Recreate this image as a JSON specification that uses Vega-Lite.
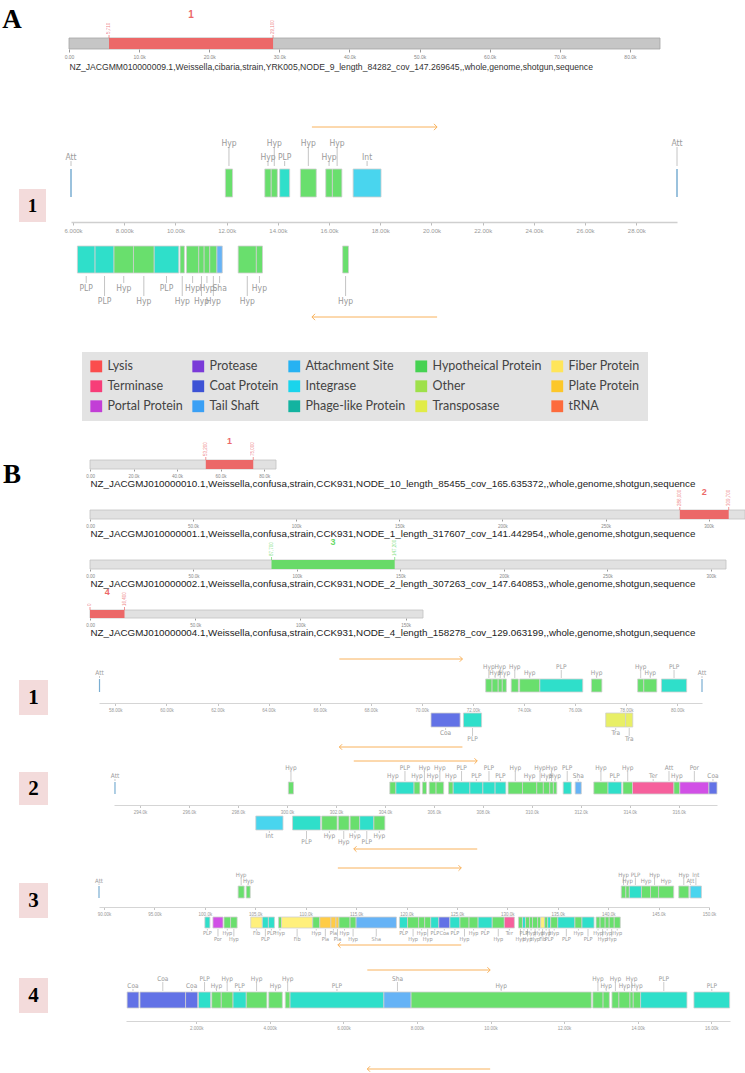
{
"$schema":"https://vega.github.io/schema/vega-lite/v6.json",
"padding":0,
"config":{"view":{"stroke":null},"font":"Liberation Sans","axis":{"grid":false}},
"columns":2,
"spacing":0,
"bounds":"flush",
"align":{"row":"each","column":"each"},
"resolve":{"scale":{"color":"independent"},"legend":{"color":"independent"}},
"datasets":{
"ov":[
{"o":"A","len":84282,"s":5710,"e":29100,"m":17405,"st":"incomplete","n":"1"},
{"o":"B1","len":85455,"s":53200,"e":75000,"m":64100,"st":"incomplete","n":"1"},
{"o":"B2","len":317607,"s":286000,"e":309700,"m":297850,"st":"incomplete","n":"2"},
{"o":"B3","len":307263,"s":87700,"e":147200,"m":117450,"st":"intact","n":"3"},
{"o":"B4","len":158278,"s":0,"e":16400,"m":8200,"st":"incomplete","n":"4"}
],
"arrows":[
{"t":"A1","a":15330,"b":20220},
{"t":"B1","a":66770,"b":71590},
{"t":"B2","a":302730,"b":307770},
{"t":"B3","a":113190,"b":125430},
{"t":"B4","a":6650,"b":9990}
],
"genes":[
{"t":"A1","s":5920,"e":5920,"m":5920,"ty":"Att","d":"+","l":1},
{"t":"A1","s":11950,"e":12230,"m":12090,"ty":"Hyp","d":"+","l":2},
{"t":"A1","s":13490,"e":13740,"m":13615,"ty":"Hyp","d":"+","l":1},
{"t":"A1","s":13740,"e":13980,"m":13860,"ty":"Hyp","d":"+","l":2},
{"t":"A1","s":14070,"e":14460,"m":14265,"ty":"PLP","d":"+","l":1},
{"t":"A1","s":14880,"e":15500,"m":15190,"ty":"Hyp","d":"+","l":2},
{"t":"A1","s":15870,"e":16130,"m":16000,"ty":"Hyp","d":"+","l":1},
{"t":"A1","s":16130,"e":16500,"m":16315,"ty":"Hyp","d":"+","l":2},
{"t":"A1","s":16940,"e":18030,"m":17485,"ty":"Int","d":"+","l":1},
{"t":"A1","s":29590,"e":29590,"m":29590,"ty":"Att","d":"+","l":2},
{"t":"A1","s":6170,"e":6860,"m":6515,"ty":"PLP","d":"-","l":1},
{"t":"A1","s":6860,"e":7600,"m":7230,"ty":"PLP","d":"-","l":2},
{"t":"A1","s":7600,"e":8360,"m":7980,"ty":"Hyp","d":"-","l":1},
{"t":"A1","s":8360,"e":9170,"m":8765,"ty":"Hyp","d":"-","l":2},
{"t":"A1","s":9170,"e":10130,"m":9650,"ty":"PLP","d":"-","l":1},
{"t":"A1","s":10180,"e":10350,"m":10265,"ty":"Hyp","d":"-","l":2},
{"t":"A1","s":10430,"e":10910,"m":10670,"ty":"Hyp","d":"-","l":1},
{"t":"A1","s":10910,"e":11120,"m":11015,"ty":"Hyp","d":"-","l":2},
{"t":"A1","s":11120,"e":11340,"m":11230,"ty":"Hyp","d":"-","l":1},
{"t":"A1","s":11340,"e":11620,"m":11480,"ty":"Hyp","d":"-","l":2},
{"t":"A1","s":11620,"e":11830,"m":11725,"ty":"Sha","d":"-","l":1},
{"t":"A1","s":12450,"e":13160,"m":12805,"ty":"Hyp","d":"-","l":2},
{"t":"A1","s":13160,"e":13400,"m":13280,"ty":"Hyp","d":"-","l":1},
{"t":"A1","s":16530,"e":16760,"m":16645,"ty":"Hyp","d":"-","l":2},
{"t":"B1","s":57380,"e":57380,"m":57380,"ty":"Att","d":"+","l":1},
{"t":"B1","s":72500,"e":72750,"m":72625,"ty":"Hyp","d":"+","l":2},
{"t":"B1","s":72750,"e":72990,"m":72870,"ty":"Hyp","d":"+","l":1},
{"t":"B1","s":72990,"e":73150,"m":73070,"ty":"Hyp","d":"+","l":2},
{"t":"B1","s":73150,"e":73310,"m":73230,"ty":"Hyp","d":"+","l":1},
{"t":"B1","s":73500,"e":73780,"m":73640,"ty":"Hyp","d":"+","l":2},
{"t":"B1","s":73830,"e":74620,"m":74225,"ty":"Hyp","d":"+","l":1},
{"t":"B1","s":74620,"e":76300,"m":75460,"ty":"PLP","d":"+","l":2},
{"t":"B1","s":76640,"e":77050,"m":76845,"ty":"Hyp","d":"+","l":1},
{"t":"B1","s":78450,"e":78690,"m":78570,"ty":"Hyp","d":"+","l":2},
{"t":"B1","s":78690,"e":79200,"m":78945,"ty":"Hyp","d":"+","l":1},
{"t":"B1","s":79380,"e":80370,"m":79875,"ty":"PLP","d":"+","l":2},
{"t":"B1","s":80970,"e":80970,"m":80970,"ty":"Att","d":"+","l":1},
{"t":"B1","s":70360,"e":71500,"m":70930,"ty":"Coa","d":"-","l":1},
{"t":"B1","s":71630,"e":72340,"m":71985,"ty":"PLP","d":"-","l":2},
{"t":"B1","s":77200,"e":77980,"m":77590,"ty":"Tra","d":"-","l":1},
{"t":"B1","s":77980,"e":78260,"m":78120,"ty":"Tra","d":"-","l":2},
{"t":"B2","s":292980,"e":292980,"m":292980,"ty":"Att","d":"+","l":1},
{"t":"B2","s":300060,"e":300270,"m":300165,"ty":"Hyp","d":"+","l":2},
{"t":"B2","s":304200,"e":304450,"m":304325,"ty":"Hyp","d":"+","l":1},
{"t":"B2","s":304450,"e":305190,"m":304820,"ty":"PLP","d":"+","l":2},
{"t":"B2","s":305190,"e":305430,"m":305310,"ty":"Hyp","d":"+","l":1},
{"t":"B2","s":305530,"e":305700,"m":305615,"ty":"Hyp","d":"+","l":2},
{"t":"B2","s":305810,"e":306090,"m":305950,"ty":"Hyp","d":"+","l":1},
{"t":"B2","s":306090,"e":306400,"m":306245,"ty":"Hyp","d":"+","l":2},
{"t":"B2","s":306600,"e":306790,"m":306695,"ty":"Hyp","d":"+","l":1},
{"t":"B2","s":306790,"e":307470,"m":307130,"ty":"PLP","d":"+","l":2},
{"t":"B2","s":307470,"e":308000,"m":307735,"ty":"PLP","d":"+","l":1},
{"t":"B2","s":308000,"e":308500,"m":308250,"ty":"PLP","d":"+","l":2},
{"t":"B2","s":308500,"e":308940,"m":308720,"ty":"PLP","d":"+","l":1},
{"t":"B2","s":309030,"e":309620,"m":309325,"ty":"Hyp","d":"+","l":2},
{"t":"B2","s":309620,"e":310200,"m":309910,"ty":"Hyp","d":"+","l":1},
{"t":"B2","s":310200,"e":310470,"m":310335,"ty":"Hyp","d":"+","l":2},
{"t":"B2","s":310470,"e":310730,"m":310600,"ty":"Hyp","d":"+","l":1},
{"t":"B2","s":310730,"e":310880,"m":310805,"ty":"Hyp","d":"+","l":2},
{"t":"B2","s":310880,"e":311020,"m":310950,"ty":"Hyp","d":"+","l":1},
{"t":"B2","s":311280,"e":311610,"m":311445,"ty":"PLP","d":"+","l":2},
{"t":"B2","s":311770,"e":312020,"m":311895,"ty":"Sha","d":"+","l":1},
{"t":"B2","s":312530,"e":313110,"m":312820,"ty":"Hyp","d":"+","l":2},
{"t":"B2","s":313110,"e":313660,"m":313385,"ty":"PLP","d":"+","l":1},
{"t":"B2","s":313720,"e":314110,"m":313915,"ty":"Hyp","d":"+","l":2},
{"t":"B2","s":314110,"e":315800,"m":314955,"ty":"Ter","d":"+","l":1},
{"t":"B2","s":315600,"e":315600,"m":315600,"ty":"Att","d":"+","l":2},
{"t":"B2","s":315800,"e":316040,"m":315920,"ty":"Hyp","d":"+","l":1},
{"t":"B2","s":316040,"e":317230,"m":316635,"ty":"Por","d":"+","l":2},
{"t":"B2","s":317230,"e":317560,"m":317395,"ty":"Coa","d":"+","l":1},
{"t":"B2","s":298730,"e":299840,"m":299285,"ty":"Int","d":"-","l":1},
{"t":"B2","s":300230,"e":301370,"m":300800,"ty":"PLP","d":"-","l":2},
{"t":"B2","s":301420,"e":302050,"m":301735,"ty":"Hyp","d":"-","l":1},
{"t":"B2","s":302100,"e":302540,"m":302320,"ty":"Hyp","d":"-","l":2},
{"t":"B2","s":302580,"e":302970,"m":302775,"ty":"Hyp","d":"-","l":1},
{"t":"B2","s":302970,"e":303550,"m":303260,"ty":"PLP","d":"-","l":2},
{"t":"B2","s":303550,"e":304000,"m":303775,"ty":"Hyp","d":"-","l":1},
{"t":"B3","s":89500,"e":89500,"m":89500,"ty":"Att","d":"+","l":1},
{"t":"B3","s":103300,"e":103900,"m":103600,"ty":"Hyp","d":"+","l":2},
{"t":"B3","s":104100,"e":104500,"m":104300,"ty":"Hyp","d":"+","l":1},
{"t":"B3","s":141300,"e":141750,"m":141525,"ty":"Hyp","d":"+","l":2},
{"t":"B3","s":141750,"e":142100,"m":141925,"ty":"Hyp","d":"+","l":1},
{"t":"B3","s":142100,"e":143300,"m":142700,"ty":"PLP","d":"+","l":2},
{"t":"B3","s":143300,"e":144200,"m":143750,"ty":"Hyp","d":"+","l":1},
{"t":"B3","s":144200,"e":145000,"m":144600,"ty":"Hyp","d":"+","l":2},
{"t":"B3","s":145000,"e":146500,"m":145750,"ty":"Hyp","d":"+","l":1},
{"t":"B3","s":147000,"e":148000,"m":147500,"ty":"Hyp","d":"+","l":2},
{"t":"B3","s":148150,"e":148150,"m":148150,"ty":"Att","d":"+","l":1},
{"t":"B3","s":148150,"e":149250,"m":148700,"ty":"Int","d":"+","l":2},
{"t":"B3","s":100000,"e":100500,"m":100250,"ty":"PLP","d":"-","l":1},
{"t":"B3","s":100800,"e":101800,"m":101300,"ty":"Por","d":"-","l":2},
{"t":"B3","s":101900,"e":102550,"m":102225,"ty":"Hyp","d":"-","l":1},
{"t":"B3","s":102550,"e":103200,"m":102875,"ty":"Hyp","d":"-","l":2},
{"t":"B3","s":104550,"e":105700,"m":105125,"ty":"Fib","d":"-","l":1},
{"t":"B3","s":105700,"e":106300,"m":106000,"ty":"PLP","d":"-","l":2},
{"t":"B3","s":106300,"e":106900,"m":106600,"ty":"PLP","d":"-","l":1},
{"t":"B3","s":107300,"e":107600,"m":107450,"ty":"Hyp","d":"-","l":1},
{"t":"B3","s":107600,"e":110700,"m":109150,"ty":"Fib","d":"-","l":2},
{"t":"B3","s":110700,"e":111400,"m":111050,"ty":"Hyp","d":"-","l":1},
{"t":"B3","s":111400,"e":112500,"m":111950,"ty":"Pla","d":"-","l":2},
{"t":"B3","s":112500,"e":113000,"m":112750,"ty":"Pla","d":"-","l":1},
{"t":"B3","s":113000,"e":113300,"m":113150,"ty":"Pla","d":"-","l":2},
{"t":"B3","s":113300,"e":114400,"m":113850,"ty":"Hyp","d":"-","l":1},
{"t":"B3","s":114400,"e":115000,"m":114700,"ty":"Hyp","d":"-","l":2},
{"t":"B3","s":115000,"e":119000,"m":117000,"ty":"Sha","d":"-","l":2},
{"t":"B3","s":119300,"e":120100,"m":119700,"ty":"PLP","d":"-","l":1},
{"t":"B3","s":120100,"e":121200,"m":120650,"ty":"Hyp","d":"-","l":2},
{"t":"B3","s":121200,"e":121800,"m":121500,"ty":"Hyp","d":"-","l":1},
{"t":"B3","s":121800,"e":122400,"m":122100,"ty":"Hyp","d":"-","l":2},
{"t":"B3","s":122400,"e":123200,"m":122800,"ty":"PLP","d":"-","l":1},
{"t":"B3","s":123200,"e":124300,"m":123750,"ty":"Coa","d":"-","l":1},
{"t":"B3","s":124300,"e":125300,"m":124800,"ty":"PLP","d":"-","l":1},
{"t":"B3","s":125300,"e":126200,"m":125750,"ty":"Hyp","d":"-","l":2},
{"t":"B3","s":126200,"e":127100,"m":126650,"ty":"Hyp","d":"-","l":1},
{"t":"B3","s":127100,"e":128500,"m":127800,"ty":"PLP","d":"-","l":1},
{"t":"B3","s":128500,"e":129700,"m":129100,"ty":"Hyp","d":"-","l":2},
{"t":"B3","s":129700,"e":130700,"m":130200,"ty":"Ter","d":"-","l":1},
{"t":"B3","s":131100,"e":131500,"m":131300,"ty":"Hyp","d":"-","l":2},
{"t":"B3","s":131500,"e":131800,"m":131650,"ty":"PLP","d":"-","l":1},
{"t":"B3","s":131800,"e":132200,"m":132000,"ty":"Hyp","d":"-","l":2},
{"t":"B3","s":132200,"e":132500,"m":132350,"ty":"Hyp","d":"-","l":1},
{"t":"B3","s":132500,"e":133000,"m":132750,"ty":"Hyp","d":"-","l":2},
{"t":"B3","s":133000,"e":133300,"m":133150,"ty":"Hyp","d":"-","l":1},
{"t":"B3","s":133300,"e":133700,"m":133500,"ty":"Fib","d":"-","l":2},
{"t":"B3","s":133700,"e":134000,"m":133850,"ty":"Hyp","d":"-","l":1},
{"t":"B3","s":134000,"e":134300,"m":134150,"ty":"PLP","d":"-","l":2},
{"t":"B3","s":134300,"e":135000,"m":134650,"ty":"Hyp","d":"-","l":1},
{"t":"B3","s":135000,"e":136700,"m":135850,"ty":"PLP","d":"-","l":2},
{"t":"B3","s":136700,"e":137400,"m":137050,"ty":"Hyp","d":"-","l":1},
{"t":"B3","s":137400,"e":138600,"m":138000,"ty":"PLP","d":"-","l":2},
{"t":"B3","s":138800,"e":139200,"m":139000,"ty":"Hyp","d":"-","l":1},
{"t":"B3","s":139200,"e":139700,"m":139450,"ty":"Hyp","d":"-","l":2},
{"t":"B3","s":139700,"e":140100,"m":139900,"ty":"Hyp","d":"-","l":1},
{"t":"B3","s":140100,"e":140600,"m":140350,"ty":"Hyp","d":"-","l":2},
{"t":"B3","s":140600,"e":141200,"m":140900,"ty":"Hyp","d":"-","l":1},
{"t":"B4","s":120,"e":440,"m":280,"ty":"Coa","d":"+","l":1},
{"t":"B4","s":470,"e":1710,"m":1090,"ty":"Coa","d":"+","l":2},
{"t":"B4","s":1710,"e":2040,"m":1875,"ty":"Coa","d":"+","l":1},
{"t":"B4","s":2060,"e":2390,"m":2225,"ty":"PLP","d":"+","l":2},
{"t":"B4","s":2420,"e":2680,"m":2550,"ty":"Hyp","d":"+","l":1},
{"t":"B4","s":2680,"e":3000,"m":2840,"ty":"Hyp","d":"+","l":2},
{"t":"B4","s":3000,"e":3360,"m":3180,"ty":"PLP","d":"+","l":1},
{"t":"B4","s":3360,"e":3920,"m":3640,"ty":"Hyp","d":"+","l":2},
{"t":"B4","s":3970,"e":4340,"m":4155,"ty":"Hyp","d":"+","l":1},
{"t":"B4","s":4420,"e":4550,"m":4485,"ty":"Hyp","d":"+","l":2},
{"t":"B4","s":4550,"e":7100,"m":5825,"ty":"PLP","d":"+","l":1},
{"t":"B4","s":7100,"e":7840,"m":7470,"ty":"Sha","d":"+","l":2},
{"t":"B4","s":7840,"e":12740,"m":10290,"ty":"Hyp","d":"+","l":1},
{"t":"B4","s":12780,"e":13060,"m":12920,"ty":"Hyp","d":"+","l":2},
{"t":"B4","s":13060,"e":13230,"m":13145,"ty":"Hyp","d":"+","l":1},
{"t":"B4","s":13300,"e":13490,"m":13395,"ty":"Hyp","d":"+","l":2},
{"t":"B4","s":13490,"e":13790,"m":13640,"ty":"Hyp","d":"+","l":1},
{"t":"B4","s":13790,"e":13880,"m":13835,"ty":"Hyp","d":"+","l":2},
{"t":"B4","s":13880,"e":14080,"m":13980,"ty":"Hyp","d":"+","l":1},
{"t":"B4","s":14080,"e":15340,"m":14710,"ty":"PLP","d":"+","l":2},
{"t":"B4","s":15530,"e":16500,"m":16015,"ty":"PLP","d":"+","l":1}
]
},
"concat":[
{"width":60,"height":90,"data":{"values":[{"lab":"A"}]},"mark":{"type":"text","font":"Liberation Serif","fontWeight":"bold","fontSize":27,"color":"#000000","align":"center","baseline":"middle"},"encoding":{"x":{"datum":12,"type":"quantitative","scale":{"domain":[0,60],"nice":false,"zero":false},"axis":null},"y":{"datum":20,"type":"quantitative","scale":{"domain":[0,90],"nice":false,"zero":false,"reverse":true},"axis":null},"text":{"field":"lab","type":"nominal"}}},
{"width":685,"height":90,"data":{"name":"ov"},"layer":[
{"transform":[{"filter":"datum.o=='A'"}],"mark":{"type":"rect","color":"#c6c6c6","stroke":"#a5a5a5","strokeWidth":0.8},"encoding":{"x":{"field":"len","type":"quantitative","scale":{"domain":[0,84282],"range":[9,600],"nice":false,"zero":false}},"x2":{"datum":0},"y":{"datum":0,"type":"quantitative","scale":{"domain":[-41,49],"nice":false,"zero":false},"axis":null},"y2":{"datum":11}}},
{"transform":[{"filter":"datum.o=='A'"}],"mark":{"type":"rect"},"encoding":{"x":{"field":"s","type":"quantitative","scale":{"domain":[0,84282],"range":[9,600],"nice":false,"zero":false},"axis":{"values":[0,10000,20000,30000,40000,50000,60000,70000,80000],"format":".3s","offset":-41,"title":"NZ_JACGMM010000009.1,Weissella,cibaria,strain,YRK005,NODE_9_length_84282_cov_147.269645,,whole,genome,shotgun,sequence","titleAnchor":"start","titleAlign":"left","titleFontSize":8.6,"titleFontWeight":"normal","titleColor":"#333333","titlePadding":3,"titleLimit":1000,"labelFontSize":5,"labelColor":"#888888","tickSize":3,"tickColor":"#999999","domain":false,"labelOverlap":false,"labelFlush":false}},"x2":{"field":"e"},"y":{"datum":0,"type":"quantitative","scale":{"domain":[-41,49],"nice":false,"zero":false},"axis":null},"y2":{"datum":11},"color":{"field":"st","type":"nominal","scale":{"domain":["incomplete","intact"],"range":["#ec6868","#68da68"]},"legend":null}}},
{"transform":[{"filter":"datum.o=='A'"}],"mark":{"type":"text","fontSize":10,"fontWeight":"bold","baseline":"middle"},"encoding":{"x":{"field":"m","type":"quantitative","scale":{"domain":[0,84282],"range":[9,600],"nice":false,"zero":false}},"y":{"datum":34,"type":"quantitative","scale":{"domain":[-41,49],"nice":false,"zero":false},"axis":null},"text":{"field":"n","type":"nominal"},"color":{"field":"st","type":"nominal","scale":{"domain":["incomplete","intact"],"range":["#ec6868","#68da68"]},"legend":null}}},
{"transform":[{"filter":"datum.o=='A'"}],"mark":{"type":"rule","strokeWidth":0.7},"encoding":{"x":{"field":"s","type":"quantitative","scale":{"domain":[0,84282],"range":[9,600],"nice":false,"zero":false}},"y":{"datum":11,"type":"quantitative","scale":{"domain":[-41,49],"nice":false,"zero":false},"axis":null},"y2":{"datum":14},"color":{"field":"st","type":"nominal","scale":{"domain":["incomplete","intact"],"range":["#ec6868","#68da68"]},"legend":null}}},
{"transform":[{"filter":"datum.o=='A'"}],"mark":{"type":"rule","strokeWidth":0.7},"encoding":{"x":{"field":"e","type":"quantitative","scale":{"domain":[0,84282],"range":[9,600],"nice":false,"zero":false}},"y":{"datum":11,"type":"quantitative","scale":{"domain":[-41,49],"nice":false,"zero":false},"axis":null},"y2":{"datum":14},"color":{"field":"st","type":"nominal","scale":{"domain":["incomplete","intact"],"range":["#ec6868","#68da68"]},"legend":null}}},
{"transform":[{"filter":"datum.o=='A'"}],"mark":{"type":"text","angle":270,"align":"left","baseline":"middle","fontSize":4.5,"opacity":0.8},"encoding":{"x":{"field":"s","type":"quantitative","scale":{"domain":[0,84282],"range":[9,600],"nice":false,"zero":false}},"y":{"datum":15,"type":"quantitative","scale":{"domain":[-41,49],"nice":false,"zero":false},"axis":null},"text":{"field":"s","type":"quantitative","format":","},"color":{"field":"st","type":"nominal","scale":{"domain":["incomplete","intact"],"range":["#ec6868","#68da68"]},"legend":null}}},
{"transform":[{"filter":"datum.o=='A'"}],"mark":{"type":"text","angle":270,"align":"left","baseline":"middle","fontSize":4.5,"opacity":0.8},"encoding":{"x":{"field":"e","type":"quantitative","scale":{"domain":[0,84282],"range":[9,600],"nice":false,"zero":false}},"y":{"datum":15,"type":"quantitative","scale":{"domain":[-41,49],"nice":false,"zero":false},"axis":null},"text":{"field":"e","type":"quantitative","format":","},"color":{"field":"st","type":"nominal","scale":{"domain":["incomplete","intact"],"range":["#ec6868","#68da68"]},"legend":null}}}
]},
{"width":60,"height":240,"data":{"values":[{"lab":"1"}]},"layer":[
{"mark":{"type":"rect","color":"#f3dbdb"},"encoding":{"x":{"datum":19,"type":"quantitative","scale":{"domain":[0,60],"nice":false,"zero":false},"axis":null},"x2":{"datum":46},"y":{"datum":99,"type":"quantitative","scale":{"domain":[0,240],"nice":false,"zero":false,"reverse":true},"axis":null},"y2":{"datum":132}}},
{"mark":{"type":"text","font":"Liberation Serif","fontWeight":"bold","fontSize":19,"color":"#000000","align":"center","baseline":"middle"},"encoding":{"x":{"datum":32.5,"type":"quantitative","scale":{"domain":[0,60],"nice":false,"zero":false},"axis":null},"y":{"datum":116,"type":"quantitative","scale":{"domain":[0,240],"nice":false,"zero":false,"reverse":true},"axis":null},"text":{"field":"lab","type":"nominal"}}}
]},
{"width":685,"height":240,"data":{"name":"genes"},"layer":[
{"transform":[{"filter":"datum.t=='A1'&&datum.ty=='Att'"}],"mark":{"type":"rule","color":"#7aaed2","strokeWidth":1.5},"encoding":{"x":{"field":"s","type":"quantitative","scale":{"domain":[5920,29590],"range":[11,617],"nice":false,"zero":false}},"y":{"datum":25,"type":"quantitative","scale":{"domain":[-108,132],"nice":false,"zero":false},"axis":null},"y2":{"datum":53}}},
{"transform":[{"filter":"datum.t=='A1'&&datum.d=='+'&&datum.ty!='Att'"}],"mark":{"type":"rect","stroke":"#cfcfcf","strokeWidth":0.8},"encoding":{"x":{"field":"s","type":"quantitative","scale":{"domain":[5920,29590],"range":[11,617],"nice":false,"zero":false},"axis":{"values":[6000,8000,10000,12000,14000,16000,18000,20000,22000,24000,26000,28000],"format":".4s","offset":-108,"title":null,"domainColor":"#cfcfcf","domainWidth":1.5,"tickColor":"#bbbbbb","tickSize":3,"labelFontSize":6,"labelColor":"#999999","labelPadding":2,"labelOverlap":false,"labelFlush":false}},"x2":{"field":"e"},"y":{"datum":25,"type":"quantitative","scale":{"domain":[-108,132],"nice":false,"zero":false},"axis":null},"y2":{"datum":53},"color":{"field":"ty","type":"nominal","scale":{"domain":["Hyp","PLP","Int","Att","Sha","Coa","Ter","Por","Tra","Fib","Pla"],"range":["#69df6d","#2fdfca","#49d5ee","#7aaed2","#66b3f6","#6272e6","#f6609c","#d150e6","#e8ef66","#fff07c","#ffcc46"]},"legend":null}}},
{"transform":[{"filter":"datum.t=='A1'&&datum.d=='-'"}],"mark":{"type":"rect","stroke":"#cfcfcf","strokeWidth":0.8},"encoding":{"x":{"field":"s","type":"quantitative","scale":{"domain":[5920,29590],"range":[11,617],"nice":false,"zero":false}},"x2":{"field":"e"},"y":{"datum":-51,"type":"quantitative","scale":{"domain":[-108,132],"nice":false,"zero":false},"axis":null},"y2":{"datum":-24},"color":{"field":"ty","type":"nominal","scale":{"domain":["Hyp","PLP","Int","Att","Sha","Coa","Ter","Por","Tra","Fib","Pla"],"range":["#69df6d","#2fdfca","#49d5ee","#7aaed2","#66b3f6","#6272e6","#f6609c","#d150e6","#e8ef66","#fff07c","#ffcc46"]},"legend":null}}},
{"transform":[{"filter":"datum.t=='A1'&&datum.d=='+'&&datum.l==1"}],"mark":{"type":"rule","color":"#b5b5b5","strokeWidth":0.8},"encoding":{"x":{"field":"m","type":"quantitative","scale":{"domain":[5920,29590],"range":[11,617],"nice":false,"zero":false}},"y":{"datum":56,"type":"quantitative","scale":{"domain":[-108,132],"nice":false,"zero":false},"axis":null},"y2":{"datum":61}}},
{"transform":[{"filter":"datum.t=='A1'&&datum.d=='+'&&datum.l==2"}],"mark":{"type":"rule","color":"#b5b5b5","strokeWidth":0.8},"encoding":{"x":{"field":"m","type":"quantitative","scale":{"domain":[5920,29590],"range":[11,617],"nice":false,"zero":false}},"y":{"datum":56,"type":"quantitative","scale":{"domain":[-108,132],"nice":false,"zero":false},"axis":null},"y2":{"datum":75}}},
{"transform":[{"filter":"datum.t=='A1'&&datum.d=='-'&&datum.l==1"}],"mark":{"type":"rule","color":"#b5b5b5","strokeWidth":0.8},"encoding":{"x":{"field":"m","type":"quantitative","scale":{"domain":[5920,29590],"range":[11,617],"nice":false,"zero":false}},"y":{"datum":-54,"type":"quantitative","scale":{"domain":[-108,132],"nice":false,"zero":false},"axis":null},"y2":{"datum":-61}}},
{"transform":[{"filter":"datum.t=='A1'&&datum.d=='-'&&datum.l==2"}],"mark":{"type":"rule","color":"#b5b5b5","strokeWidth":0.8},"encoding":{"x":{"field":"m","type":"quantitative","scale":{"domain":[5920,29590],"range":[11,617],"nice":false,"zero":false}},"y":{"datum":-54,"type":"quantitative","scale":{"domain":[-108,132],"nice":false,"zero":false},"axis":null},"y2":{"datum":-74}}},
{"transform":[{"filter":"datum.t=='A1'&&datum.d=='+'&&datum.l==1"}],"mark":{"type":"text","font":"DejaVu Sans Condensed, Liberation Sans, sans-serif","fontSize":8.5,"color":"#9a9a9a","baseline":"middle"},"encoding":{"x":{"field":"m","type":"quantitative","scale":{"domain":[5920,29590],"range":[11,617],"nice":false,"zero":false}},"y":{"datum":65,"type":"quantitative","scale":{"domain":[-108,132],"nice":false,"zero":false},"axis":null},"text":{"field":"ty","type":"nominal"}}},
{"transform":[{"filter":"datum.t=='A1'&&datum.d=='+'&&datum.l==2"}],"mark":{"type":"text","font":"DejaVu Sans Condensed, Liberation Sans, sans-serif","fontSize":8.5,"color":"#9a9a9a","baseline":"middle"},"encoding":{"x":{"field":"m","type":"quantitative","scale":{"domain":[5920,29590],"range":[11,617],"nice":false,"zero":false}},"y":{"datum":79,"type":"quantitative","scale":{"domain":[-108,132],"nice":false,"zero":false},"axis":null},"text":{"field":"ty","type":"nominal"}}},
{"transform":[{"filter":"datum.t=='A1'&&datum.d=='-'&&datum.l==1"}],"mark":{"type":"text","font":"DejaVu Sans Condensed, Liberation Sans, sans-serif","fontSize":8.5,"color":"#9a9a9a","baseline":"middle"},"encoding":{"x":{"field":"m","type":"quantitative","scale":{"domain":[5920,29590],"range":[11,617],"nice":false,"zero":false}},"y":{"datum":-66,"type":"quantitative","scale":{"domain":[-108,132],"nice":false,"zero":false},"axis":null},"text":{"field":"ty","type":"nominal"}}},
{"transform":[{"filter":"datum.t=='A1'&&datum.d=='-'&&datum.l==2"}],"mark":{"type":"text","font":"DejaVu Sans Condensed, Liberation Sans, sans-serif","fontSize":8.5,"color":"#9a9a9a","baseline":"middle"},"encoding":{"x":{"field":"m","type":"quantitative","scale":{"domain":[5920,29590],"range":[11,617],"nice":false,"zero":false}},"y":{"datum":-79,"type":"quantitative","scale":{"domain":[-108,132],"nice":false,"zero":false},"axis":null},"text":{"field":"ty","type":"nominal"}}},
{"data":{"name":"arrows"},"transform":[{"filter":"datum.t=='A1'"}],"mark":{"type":"rule","color":"#f9b25c","strokeWidth":1},"encoding":{"x":{"field":"a","type":"quantitative","scale":{"domain":[5920,29590],"range":[11,617],"nice":false,"zero":false}},"x2":{"field":"b"},"y":{"datum":95,"type":"quantitative","scale":{"domain":[-108,132],"nice":false,"zero":false},"axis":null}}},
{"data":{"name":"arrows"},"transform":[{"filter":"datum.t=='A1'"}],"mark":{"type":"rule","color":"#f9b25c","strokeWidth":1},"encoding":{"x":{"field":"a","type":"quantitative","scale":{"domain":[5920,29590],"range":[11,617],"nice":false,"zero":false}},"x2":{"field":"b"},"y":{"datum":-95,"type":"quantitative","scale":{"domain":[-108,132],"nice":false,"zero":false},"axis":null}}},
{"data":{"name":"arrows"},"transform":[{"filter":"datum.t=='A1'"}],"mark":{"type":"point","shape":"M-1,-1L0,0L-1,1","filled":false,"color":"#f9b25c","strokeWidth":1,"size":40,"opacity":1},"encoding":{"x":{"field":"b","type":"quantitative","scale":{"domain":[5920,29590],"range":[11,617],"nice":false,"zero":false}},"y":{"datum":95,"type":"quantitative","scale":{"domain":[-108,132],"nice":false,"zero":false},"axis":null}}},
{"data":{"name":"arrows"},"transform":[{"filter":"datum.t=='A1'"}],"mark":{"type":"point","shape":"M1,-1L0,0L1,1","filled":false,"color":"#f9b25c","strokeWidth":1,"size":40,"opacity":1},"encoding":{"x":{"field":"a","type":"quantitative","scale":{"domain":[5920,29590],"range":[11,617],"nice":false,"zero":false}},"y":{"datum":-95,"type":"quantitative","scale":{"domain":[-108,132],"nice":false,"zero":false},"axis":null}}}
]},
{"width":60,"height":100,"data":{"values":[{"lab":""}]},"mark":{"type":"text"},"encoding":{"text":{"field":"lab","type":"nominal"}}},
{"width":685,"height":100,"data":{"values":[{"c":"Lysis"}]},"mark":{"type":"square","size":0},"encoding":{"color":{"field":"c","type":"nominal","scale":{"domain":["Lysis","Protease","Attachment Site","Hypotheical Protein","Fiber Protein","Terminase","Coat Protein","Integrase","Other","Plate Protein","Portal Protein","Tail Shaft","Phage-like Protein","Transposase","tRNA"],"range":["#fb4d4d","#7a3ad8","#26b2f2","#46d252","#ffe55a","#f73d78","#3d52d5","#1ad4ec","#9ee04a","#fcc72a","#c23ed6","#3aa0f5","#13b3a0","#e1ec47","#fd6b3c"]},"legend":{"orient":"none","legendX":22,"legendY":22,"columns":5,"direction":"horizontal","title":null,"symbolType":"square","symbolSize":140,"symbolStrokeWidth":0,"symbolOpacity":1,"labelFont":"Lato","labelFontSize":12.5,"labelColor":"#444444","labelOffset":5,"labelLimit":250,"fillColor":"#e3e3e3","padding":8,"rowPadding":7,"columnPadding":9}}}},
{"width":60,"height":56,"data":{"values":[{"lab":"B"}]},"mark":{"type":"text","font":"Liberation Serif","fontWeight":"bold","fontSize":27,"color":"#000000","align":"center","baseline":"middle"},"encoding":{"x":{"datum":12,"type":"quantitative","scale":{"domain":[0,60],"nice":false,"zero":false},"axis":null},"y":{"datum":45,"type":"quantitative","scale":{"domain":[0,56],"nice":false,"zero":false,"reverse":true},"axis":null},"text":{"field":"lab","type":"nominal"}}},
{"width":685,"height":56,"data":{"name":"ov"},"layer":[
{"transform":[{"filter":"datum.o=='B1'"}],"mark":{"type":"rect","color":"#e1e1e1","stroke":"#c2c2c2","strokeWidth":0.8},"encoding":{"x":{"field":"len","type":"quantitative","scale":{"domain":[0,85455],"range":[30,216],"nice":false,"zero":false}},"x2":{"datum":0},"y":{"datum":0,"type":"quantitative","scale":{"domain":[-17,39],"nice":false,"zero":false},"axis":null},"y2":{"datum":9}}},
{"transform":[{"filter":"datum.o=='B1'"}],"mark":{"type":"rect"},"encoding":{"x":{"field":"s","type":"quantitative","scale":{"domain":[0,85455],"range":[30,216],"nice":false,"zero":false},"axis":{"values":[0,20000,40000,60000,80000],"format":".3s","offset":-17,"title":"NZ_JACGMJ010000010.1,Weissella,confusa,strain,CCK931,NODE_10_length_85455_cov_165.635372,,whole,genome,shotgun,sequence","titleAnchor":"start","titleAlign":"left","titleFontSize":9.8,"titleFontWeight":"normal","titleColor":"#222222","titlePadding":1,"titleLimit":1000,"labelFontSize":4.5,"labelColor":"#888888","tickSize":2,"tickColor":"#999999","domain":false,"labelOverlap":false,"labelFlush":false}},"x2":{"field":"e"},"y":{"datum":0,"type":"quantitative","scale":{"domain":[-17,39],"nice":false,"zero":false},"axis":null},"y2":{"datum":9},"color":{"field":"st","type":"nominal","scale":{"domain":["incomplete","intact"],"range":["#ec6868","#68da68"]},"legend":null}}},
{"transform":[{"filter":"datum.o=='B1'"}],"mark":{"type":"text","fontSize":9,"fontWeight":"bold","baseline":"middle"},"encoding":{"x":{"field":"m","type":"quantitative","scale":{"domain":[0,85455],"range":[30,216],"nice":false,"zero":false}},"y":{"datum":28,"type":"quantitative","scale":{"domain":[-17,39],"nice":false,"zero":false},"axis":null},"text":{"field":"n","type":"nominal"},"color":{"field":"st","type":"nominal","scale":{"domain":["incomplete","intact"],"range":["#ec6868","#68da68"]},"legend":null}}},
{"transform":[{"filter":"datum.o=='B1'"}],"mark":{"type":"rule","strokeWidth":0.7},"encoding":{"x":{"field":"s","type":"quantitative","scale":{"domain":[0,85455],"range":[30,216],"nice":false,"zero":false}},"y":{"datum":9,"type":"quantitative","scale":{"domain":[-17,39],"nice":false,"zero":false},"axis":null},"y2":{"datum":12},"color":{"field":"st","type":"nominal","scale":{"domain":["incomplete","intact"],"range":["#ec6868","#68da68"]},"legend":null}}},
{"transform":[{"filter":"datum.o=='B1'"}],"mark":{"type":"rule","strokeWidth":0.7},"encoding":{"x":{"field":"e","type":"quantitative","scale":{"domain":[0,85455],"range":[30,216],"nice":false,"zero":false}},"y":{"datum":9,"type":"quantitative","scale":{"domain":[-17,39],"nice":false,"zero":false},"axis":null},"y2":{"datum":12},"color":{"field":"st","type":"nominal","scale":{"domain":["incomplete","intact"],"range":["#ec6868","#68da68"]},"legend":null}}},
{"transform":[{"filter":"datum.o=='B1'"}],"mark":{"type":"text","angle":270,"align":"left","baseline":"middle","fontSize":4.5,"opacity":0.8},"encoding":{"x":{"field":"s","type":"quantitative","scale":{"domain":[0,85455],"range":[30,216],"nice":false,"zero":false}},"y":{"datum":13,"type":"quantitative","scale":{"domain":[-17,39],"nice":false,"zero":false},"axis":null},"text":{"field":"s","type":"quantitative","format":","},"color":{"field":"st","type":"nominal","scale":{"domain":["incomplete","intact"],"range":["#ec6868","#68da68"]},"legend":null}}},
{"transform":[{"filter":"datum.o=='B1'"}],"mark":{"type":"text","angle":270,"align":"left","baseline":"middle","fontSize":4.5,"opacity":0.8},"encoding":{"x":{"field":"e","type":"quantitative","scale":{"domain":[0,85455],"range":[30,216],"nice":false,"zero":false}},"y":{"datum":13,"type":"quantitative","scale":{"domain":[-17,39],"nice":false,"zero":false},"axis":null},"text":{"field":"e","type":"quantitative","format":","},"color":{"field":"st","type":"nominal","scale":{"domain":["incomplete","intact"],"range":["#ec6868","#68da68"]},"legend":null}}}
]},
{"width":60,"height":50,"data":{"values":[{"lab":""}]},"mark":{"type":"text"},"encoding":{"text":{"field":"lab","type":"nominal"}}},
{"width":685,"height":50,"data":{"name":"ov"},"layer":[
{"transform":[{"filter":"datum.o=='B2'"}],"mark":{"type":"rect","color":"#e1e1e1","stroke":"#c2c2c2","strokeWidth":0.8},"encoding":{"x":{"field":"len","type":"quantitative","scale":{"domain":[0,317607],"range":[30,685],"nice":false,"zero":false}},"x2":{"datum":0},"y":{"datum":0,"type":"quantitative","scale":{"domain":[-17,33],"nice":false,"zero":false},"axis":null},"y2":{"datum":9}}},
{"transform":[{"filter":"datum.o=='B2'"}],"mark":{"type":"rect"},"encoding":{"x":{"field":"s","type":"quantitative","scale":{"domain":[0,317607],"range":[30,685],"nice":false,"zero":false},"axis":{"values":[0,50000,100000,150000,200000,250000,300000],"format":".3s","offset":-17,"title":"NZ_JACGMJ010000001.1,Weissella,confusa,strain,CCK931,NODE_1_length_317607_cov_141.442954,,whole,genome,shotgun,sequence","titleAnchor":"start","titleAlign":"left","titleFontSize":9.8,"titleFontWeight":"normal","titleColor":"#222222","titlePadding":1,"titleLimit":1000,"labelFontSize":4.5,"labelColor":"#888888","tickSize":2,"tickColor":"#999999","domain":false,"labelOverlap":false,"labelFlush":false}},"x2":{"field":"e"},"y":{"datum":0,"type":"quantitative","scale":{"domain":[-17,33],"nice":false,"zero":false},"axis":null},"y2":{"datum":9},"color":{"field":"st","type":"nominal","scale":{"domain":["incomplete","intact"],"range":["#ec6868","#68da68"]},"legend":null}}},
{"transform":[{"filter":"datum.o=='B2'"}],"mark":{"type":"text","fontSize":9,"fontWeight":"bold","baseline":"middle"},"encoding":{"x":{"field":"m","type":"quantitative","scale":{"domain":[0,317607],"range":[30,685],"nice":false,"zero":false}},"y":{"datum":27,"type":"quantitative","scale":{"domain":[-17,33],"nice":false,"zero":false},"axis":null},"text":{"field":"n","type":"nominal"},"color":{"field":"st","type":"nominal","scale":{"domain":["incomplete","intact"],"range":["#ec6868","#68da68"]},"legend":null}}},
{"transform":[{"filter":"datum.o=='B2'"}],"mark":{"type":"rule","strokeWidth":0.7},"encoding":{"x":{"field":"s","type":"quantitative","scale":{"domain":[0,317607],"range":[30,685],"nice":false,"zero":false}},"y":{"datum":9,"type":"quantitative","scale":{"domain":[-17,33],"nice":false,"zero":false},"axis":null},"y2":{"datum":12},"color":{"field":"st","type":"nominal","scale":{"domain":["incomplete","intact"],"range":["#ec6868","#68da68"]},"legend":null}}},
{"transform":[{"filter":"datum.o=='B2'"}],"mark":{"type":"rule","strokeWidth":0.7},"encoding":{"x":{"field":"e","type":"quantitative","scale":{"domain":[0,317607],"range":[30,685],"nice":false,"zero":false}},"y":{"datum":9,"type":"quantitative","scale":{"domain":[-17,33],"nice":false,"zero":false},"axis":null},"y2":{"datum":12},"color":{"field":"st","type":"nominal","scale":{"domain":["incomplete","intact"],"range":["#ec6868","#68da68"]},"legend":null}}},
{"transform":[{"filter":"datum.o=='B2'"}],"mark":{"type":"text","angle":270,"align":"left","baseline":"middle","fontSize":4.5,"opacity":0.8},"encoding":{"x":{"field":"s","type":"quantitative","scale":{"domain":[0,317607],"range":[30,685],"nice":false,"zero":false}},"y":{"datum":13,"type":"quantitative","scale":{"domain":[-17,33],"nice":false,"zero":false},"axis":null},"text":{"field":"s","type":"quantitative","format":","},"color":{"field":"st","type":"nominal","scale":{"domain":["incomplete","intact"],"range":["#ec6868","#68da68"]},"legend":null}}},
{"transform":[{"filter":"datum.o=='B2'"}],"mark":{"type":"text","angle":270,"align":"left","baseline":"middle","fontSize":4.5,"opacity":0.8},"encoding":{"x":{"field":"e","type":"quantitative","scale":{"domain":[0,317607],"range":[30,685],"nice":false,"zero":false}},"y":{"datum":13,"type":"quantitative","scale":{"domain":[-17,33],"nice":false,"zero":false},"axis":null},"text":{"field":"e","type":"quantitative","format":","},"color":{"field":"st","type":"nominal","scale":{"domain":["incomplete","intact"],"range":["#ec6868","#68da68"]},"legend":null}}}
]},
{"width":60,"height":50,"data":{"values":[{"lab":""}]},"mark":{"type":"text"},"encoding":{"text":{"field":"lab","type":"nominal"}}},
{"width":685,"height":50,"data":{"name":"ov"},"layer":[
{"transform":[{"filter":"datum.o=='B3'"}],"mark":{"type":"rect","color":"#e1e1e1","stroke":"#c2c2c2","strokeWidth":0.8},"encoding":{"x":{"field":"len","type":"quantitative","scale":{"domain":[0,307263],"range":[30,666],"nice":false,"zero":false}},"x2":{"datum":0},"y":{"datum":0,"type":"quantitative","scale":{"domain":[-17,33],"nice":false,"zero":false},"axis":null},"y2":{"datum":9}}},
{"transform":[{"filter":"datum.o=='B3'"}],"mark":{"type":"rect"},"encoding":{"x":{"field":"s","type":"quantitative","scale":{"domain":[0,307263],"range":[30,666],"nice":false,"zero":false},"axis":{"values":[0,50000,100000,150000,200000,250000,300000],"format":".3s","offset":-17,"title":"NZ_JACGMJ010000002.1,Weissella,confusa,strain,CCK931,NODE_2_length_307263_cov_147.640853,,whole,genome,shotgun,sequence","titleAnchor":"start","titleAlign":"left","titleFontSize":9.8,"titleFontWeight":"normal","titleColor":"#222222","titlePadding":1,"titleLimit":1000,"labelFontSize":4.5,"labelColor":"#888888","tickSize":2,"tickColor":"#999999","domain":false,"labelOverlap":false,"labelFlush":false}},"x2":{"field":"e"},"y":{"datum":0,"type":"quantitative","scale":{"domain":[-17,33],"nice":false,"zero":false},"axis":null},"y2":{"datum":9},"color":{"field":"st","type":"nominal","scale":{"domain":["incomplete","intact"],"range":["#ec6868","#68da68"]},"legend":null}}},
{"transform":[{"filter":"datum.o=='B3'"}],"mark":{"type":"text","fontSize":9,"fontWeight":"bold","baseline":"middle"},"encoding":{"x":{"field":"m","type":"quantitative","scale":{"domain":[0,307263],"range":[30,666],"nice":false,"zero":false}},"y":{"datum":27,"type":"quantitative","scale":{"domain":[-17,33],"nice":false,"zero":false},"axis":null},"text":{"field":"n","type":"nominal"},"color":{"field":"st","type":"nominal","scale":{"domain":["incomplete","intact"],"range":["#ec6868","#68da68"]},"legend":null}}},
{"transform":[{"filter":"datum.o=='B3'"}],"mark":{"type":"rule","strokeWidth":0.7},"encoding":{"x":{"field":"s","type":"quantitative","scale":{"domain":[0,307263],"range":[30,666],"nice":false,"zero":false}},"y":{"datum":9,"type":"quantitative","scale":{"domain":[-17,33],"nice":false,"zero":false},"axis":null},"y2":{"datum":12},"color":{"field":"st","type":"nominal","scale":{"domain":["incomplete","intact"],"range":["#ec6868","#68da68"]},"legend":null}}},
{"transform":[{"filter":"datum.o=='B3'"}],"mark":{"type":"rule","strokeWidth":0.7},"encoding":{"x":{"field":"e","type":"quantitative","scale":{"domain":[0,307263],"range":[30,666],"nice":false,"zero":false}},"y":{"datum":9,"type":"quantitative","scale":{"domain":[-17,33],"nice":false,"zero":false},"axis":null},"y2":{"datum":12},"color":{"field":"st","type":"nominal","scale":{"domain":["incomplete","intact"],"range":["#ec6868","#68da68"]},"legend":null}}},
{"transform":[{"filter":"datum.o=='B3'"}],"mark":{"type":"text","angle":270,"align":"left","baseline":"middle","fontSize":4.5,"opacity":0.8},"encoding":{"x":{"field":"s","type":"quantitative","scale":{"domain":[0,307263],"range":[30,666],"nice":false,"zero":false}},"y":{"datum":13,"type":"quantitative","scale":{"domain":[-17,33],"nice":false,"zero":false},"axis":null},"text":{"field":"s","type":"quantitative","format":","},"color":{"field":"st","type":"nominal","scale":{"domain":["incomplete","intact"],"range":["#ec6868","#68da68"]},"legend":null}}},
{"transform":[{"filter":"datum.o=='B3'"}],"mark":{"type":"text","angle":270,"align":"left","baseline":"middle","fontSize":4.5,"opacity":0.8},"encoding":{"x":{"field":"e","type":"quantitative","scale":{"domain":[0,307263],"range":[30,666],"nice":false,"zero":false}},"y":{"datum":13,"type":"quantitative","scale":{"domain":[-17,33],"nice":false,"zero":false},"axis":null},"text":{"field":"e","type":"quantitative","format":","},"color":{"field":"st","type":"nominal","scale":{"domain":["incomplete","intact"],"range":["#ec6868","#68da68"]},"legend":null}}}
]},
{"width":60,"height":54,"data":{"values":[{"lab":""}]},"mark":{"type":"text"},"encoding":{"text":{"field":"lab","type":"nominal"}}},
{"width":685,"height":54,"data":{"name":"ov"},"layer":[
{"transform":[{"filter":"datum.o=='B4'"}],"mark":{"type":"rect","color":"#e1e1e1","stroke":"#c2c2c2","strokeWidth":0.8},"encoding":{"x":{"field":"len","type":"quantitative","scale":{"domain":[0,158278],"range":[30,363],"nice":false,"zero":false}},"x2":{"datum":0},"y":{"datum":0,"type":"quantitative","scale":{"domain":[-22,32],"nice":false,"zero":false},"axis":null},"y2":{"datum":8}}},
{"transform":[{"filter":"datum.o=='B4'"}],"mark":{"type":"rect"},"encoding":{"x":{"field":"s","type":"quantitative","scale":{"domain":[0,158278],"range":[30,363],"nice":false,"zero":false},"axis":{"values":[0,50000,100000,150000],"format":".3s","offset":-22,"title":"NZ_JACGMJ010000004.1,Weissella,confusa,strain,CCK931,NODE_4_length_158278_cov_129.063199,,whole,genome,shotgun,sequence","titleAnchor":"start","titleAlign":"left","titleFontSize":9.8,"titleFontWeight":"normal","titleColor":"#222222","titlePadding":1,"titleLimit":1000,"labelFontSize":4.5,"labelColor":"#888888","tickSize":2,"tickColor":"#999999","domain":false,"labelOverlap":false,"labelFlush":false}},"x2":{"field":"e"},"y":{"datum":0,"type":"quantitative","scale":{"domain":[-22,32],"nice":false,"zero":false},"axis":null},"y2":{"datum":8},"color":{"field":"st","type":"nominal","scale":{"domain":["incomplete","intact"],"range":["#ec6868","#68da68"]},"legend":null}}},
{"transform":[{"filter":"datum.o=='B4'"}],"mark":{"type":"text","fontSize":9,"fontWeight":"bold","baseline":"middle"},"encoding":{"x":{"field":"m","type":"quantitative","scale":{"domain":[0,158278],"range":[30,363],"nice":false,"zero":false}},"y":{"datum":26,"type":"quantitative","scale":{"domain":[-22,32],"nice":false,"zero":false},"axis":null},"text":{"field":"n","type":"nominal"},"color":{"field":"st","type":"nominal","scale":{"domain":["incomplete","intact"],"range":["#ec6868","#68da68"]},"legend":null}}},
{"transform":[{"filter":"datum.o=='B4'"}],"mark":{"type":"rule","strokeWidth":0.7},"encoding":{"x":{"field":"s","type":"quantitative","scale":{"domain":[0,158278],"range":[30,363],"nice":false,"zero":false}},"y":{"datum":8,"type":"quantitative","scale":{"domain":[-22,32],"nice":false,"zero":false},"axis":null},"y2":{"datum":11},"color":{"field":"st","type":"nominal","scale":{"domain":["incomplete","intact"],"range":["#ec6868","#68da68"]},"legend":null}}},
{"transform":[{"filter":"datum.o=='B4'"}],"mark":{"type":"rule","strokeWidth":0.7},"encoding":{"x":{"field":"e","type":"quantitative","scale":{"domain":[0,158278],"range":[30,363],"nice":false,"zero":false}},"y":{"datum":8,"type":"quantitative","scale":{"domain":[-22,32],"nice":false,"zero":false},"axis":null},"y2":{"datum":11},"color":{"field":"st","type":"nominal","scale":{"domain":["incomplete","intact"],"range":["#ec6868","#68da68"]},"legend":null}}},
{"transform":[{"filter":"datum.o=='B4'"}],"mark":{"type":"text","angle":270,"align":"left","baseline":"middle","fontSize":4.5,"opacity":0.8},"encoding":{"x":{"field":"s","type":"quantitative","scale":{"domain":[0,158278],"range":[30,363],"nice":false,"zero":false}},"y":{"datum":12,"type":"quantitative","scale":{"domain":[-22,32],"nice":false,"zero":false},"axis":null},"text":{"field":"s","type":"quantitative","format":","},"color":{"field":"st","type":"nominal","scale":{"domain":["incomplete","intact"],"range":["#ec6868","#68da68"]},"legend":null}}},
{"transform":[{"filter":"datum.o=='B4'"}],"mark":{"type":"text","angle":270,"align":"left","baseline":"middle","fontSize":4.5,"opacity":0.8},"encoding":{"x":{"field":"e","type":"quantitative","scale":{"domain":[0,158278],"range":[30,363],"nice":false,"zero":false}},"y":{"datum":12,"type":"quantitative","scale":{"domain":[-22,32],"nice":false,"zero":false},"axis":null},"text":{"field":"e","type":"quantitative","format":","},"color":{"field":"st","type":"nominal","scale":{"domain":["incomplete","intact"],"range":["#ec6868","#68da68"]},"legend":null}}}
]},
{"width":60,"height":112,"data":{"values":[{"lab":"1"}]},"layer":[
{"mark":{"type":"rect","color":"#f3dbdb"},"encoding":{"x":{"datum":19,"type":"quantitative","scale":{"domain":[0,60],"nice":false,"zero":false},"axis":null},"x2":{"datum":48},"y":{"datum":40,"type":"quantitative","scale":{"domain":[0,112],"nice":false,"zero":false,"reverse":true},"axis":null},"y2":{"datum":75}}},
{"mark":{"type":"text","font":"Liberation Serif","fontWeight":"bold","fontSize":21,"color":"#000000","align":"center","baseline":"middle"},"encoding":{"x":{"datum":33.5,"type":"quantitative","scale":{"domain":[0,60],"nice":false,"zero":false},"axis":null},"y":{"datum":58,"type":"quantitative","scale":{"domain":[0,112],"nice":false,"zero":false,"reverse":true},"axis":null},"text":{"field":"lab","type":"nominal"}}}
]},
{"width":685,"height":112,"data":{"name":"genes"},"layer":[
{"transform":[{"filter":"datum.t=='B1'&&datum.ty=='Att'"}],"mark":{"type":"rule","color":"#7aaed2","strokeWidth":1.2},"encoding":{"x":{"field":"s","type":"quantitative","scale":{"domain":[57360,80970],"range":[39,642],"nice":false,"zero":false}},"y":{"datum":11,"type":"quantitative","scale":{"domain":[-49,63],"nice":false,"zero":false},"axis":null},"y2":{"datum":24}}},
{"transform":[{"filter":"datum.t=='B1'&&datum.d=='+'&&datum.ty!='Att'"}],"mark":{"type":"rect","stroke":"#cfcfcf","strokeWidth":0.8},"encoding":{"x":{"field":"s","type":"quantitative","scale":{"domain":[57360,80970],"range":[39,642],"nice":false,"zero":false},"axis":{"values":[58000,60000,62000,64000,66000,68000,70000,72000,74000,76000,78000,80000],"format":".4s","offset":-49,"title":null,"domainColor":"#d5d5d5","domainWidth":1.2,"tickColor":"#c5c5c5","tickSize":2.5,"labelFontSize":4.5,"labelColor":"#999999","labelPadding":1.5,"labelOverlap":false,"labelFlush":false}},"x2":{"field":"e"},"y":{"datum":11,"type":"quantitative","scale":{"domain":[-49,63],"nice":false,"zero":false},"axis":null},"y2":{"datum":24},"color":{"field":"ty","type":"nominal","scale":{"domain":["Hyp","PLP","Int","Att","Sha","Coa","Ter","Por","Tra","Fib","Pla"],"range":["#69df6d","#2fdfca","#49d5ee","#7aaed2","#66b3f6","#6272e6","#f6609c","#d150e6","#e8ef66","#fff07c","#ffcc46"]},"legend":null}}},
{"transform":[{"filter":"datum.t=='B1'&&datum.d=='-'"}],"mark":{"type":"rect","stroke":"#cfcfcf","strokeWidth":0.8},"encoding":{"x":{"field":"s","type":"quantitative","scale":{"domain":[57360,80970],"range":[39,642],"nice":false,"zero":false}},"x2":{"field":"e"},"y":{"datum":-24,"type":"quantitative","scale":{"domain":[-49,63],"nice":false,"zero":false},"axis":null},"y2":{"datum":-10},"color":{"field":"ty","type":"nominal","scale":{"domain":["Hyp","PLP","Int","Att","Sha","Coa","Ter","Por","Tra","Fib","Pla"],"range":["#69df6d","#2fdfca","#49d5ee","#7aaed2","#66b3f6","#6272e6","#f6609c","#d150e6","#e8ef66","#fff07c","#ffcc46"]},"legend":null}}},
{"transform":[{"filter":"datum.t=='B1'&&datum.d=='+'&&datum.l==1"}],"mark":{"type":"rule","color":"#b5b5b5","strokeWidth":0.7},"encoding":{"x":{"field":"m","type":"quantitative","scale":{"domain":[57360,80970],"range":[39,642],"nice":false,"zero":false}},"y":{"datum":25,"type":"quantitative","scale":{"domain":[-49,63],"nice":false,"zero":false},"axis":null},"y2":{"datum":27}}},
{"transform":[{"filter":"datum.t=='B1'&&datum.d=='+'&&datum.l==2"}],"mark":{"type":"rule","color":"#b5b5b5","strokeWidth":0.7},"encoding":{"x":{"field":"m","type":"quantitative","scale":{"domain":[57360,80970],"range":[39,642],"nice":false,"zero":false}},"y":{"datum":25,"type":"quantitative","scale":{"domain":[-49,63],"nice":false,"zero":false},"axis":null},"y2":{"datum":33}}},
{"transform":[{"filter":"datum.t=='B1'&&datum.d=='-'&&datum.l==1"}],"mark":{"type":"rule","color":"#b5b5b5","strokeWidth":0.7},"encoding":{"x":{"field":"m","type":"quantitative","scale":{"domain":[57360,80970],"range":[39,642],"nice":false,"zero":false}},"y":{"datum":-25,"type":"quantitative","scale":{"domain":[-49,63],"nice":false,"zero":false},"axis":null},"y2":{"datum":-27}}},
{"transform":[{"filter":"datum.t=='B1'&&datum.d=='-'&&datum.l==2"}],"mark":{"type":"rule","color":"#b5b5b5","strokeWidth":0.7},"encoding":{"x":{"field":"m","type":"quantitative","scale":{"domain":[57360,80970],"range":[39,642],"nice":false,"zero":false}},"y":{"datum":-25,"type":"quantitative","scale":{"domain":[-49,63],"nice":false,"zero":false},"axis":null},"y2":{"datum":-33}}},
{"transform":[{"filter":"datum.t=='B1'&&datum.d=='+'&&datum.l==1"}],"mark":{"type":"text","font":"DejaVu Sans Condensed, Liberation Sans, sans-serif","fontSize":6.5,"color":"#9a9a9a","baseline":"middle"},"encoding":{"x":{"field":"m","type":"quantitative","scale":{"domain":[57360,80970],"range":[39,642],"nice":false,"zero":false}},"y":{"datum":30,"type":"quantitative","scale":{"domain":[-49,63],"nice":false,"zero":false},"axis":null},"text":{"field":"ty","type":"nominal"}}},
{"transform":[{"filter":"datum.t=='B1'&&datum.d=='+'&&datum.l==2"}],"mark":{"type":"text","font":"DejaVu Sans Condensed, Liberation Sans, sans-serif","fontSize":6.5,"color":"#9a9a9a","baseline":"middle"},"encoding":{"x":{"field":"m","type":"quantitative","scale":{"domain":[57360,80970],"range":[39,642],"nice":false,"zero":false}},"y":{"datum":36,"type":"quantitative","scale":{"domain":[-49,63],"nice":false,"zero":false},"axis":null},"text":{"field":"ty","type":"nominal"}}},
{"transform":[{"filter":"datum.t=='B1'&&datum.d=='-'&&datum.l==1"}],"mark":{"type":"text","font":"DejaVu Sans Condensed, Liberation Sans, sans-serif","fontSize":6.5,"color":"#9a9a9a","baseline":"middle"},"encoding":{"x":{"field":"m","type":"quantitative","scale":{"domain":[57360,80970],"range":[39,642],"nice":false,"zero":false}},"y":{"datum":-30,"type":"quantitative","scale":{"domain":[-49,63],"nice":false,"zero":false},"axis":null},"text":{"field":"ty","type":"nominal"}}},
{"transform":[{"filter":"datum.t=='B1'&&datum.d=='-'&&datum.l==2"}],"mark":{"type":"text","font":"DejaVu Sans Condensed, Liberation Sans, sans-serif","fontSize":6.5,"color":"#9a9a9a","baseline":"middle"},"encoding":{"x":{"field":"m","type":"quantitative","scale":{"domain":[57360,80970],"range":[39,642],"nice":false,"zero":false}},"y":{"datum":-36,"type":"quantitative","scale":{"domain":[-49,63],"nice":false,"zero":false},"axis":null},"text":{"field":"ty","type":"nominal"}}},
{"data":{"name":"arrows"},"transform":[{"filter":"datum.t=='B1'"}],"mark":{"type":"rule","color":"#f9b25c","strokeWidth":1},"encoding":{"x":{"field":"a","type":"quantitative","scale":{"domain":[57360,80970],"range":[39,642],"nice":false,"zero":false}},"x2":{"field":"b"},"y":{"datum":44,"type":"quantitative","scale":{"domain":[-49,63],"nice":false,"zero":false},"axis":null}}},
{"data":{"name":"arrows"},"transform":[{"filter":"datum.t=='B1'"}],"mark":{"type":"rule","color":"#f9b25c","strokeWidth":1},"encoding":{"x":{"field":"a","type":"quantitative","scale":{"domain":[57360,80970],"range":[39,642],"nice":false,"zero":false}},"x2":{"field":"b"},"y":{"datum":-44,"type":"quantitative","scale":{"domain":[-49,63],"nice":false,"zero":false},"axis":null}}},
{"data":{"name":"arrows"},"transform":[{"filter":"datum.t=='B1'"}],"mark":{"type":"point","shape":"M-1,-1L0,0L-1,1","filled":false,"color":"#f9b25c","strokeWidth":1,"size":30,"opacity":1},"encoding":{"x":{"field":"b","type":"quantitative","scale":{"domain":[57360,80970],"range":[39,642],"nice":false,"zero":false}},"y":{"datum":44,"type":"quantitative","scale":{"domain":[-49,63],"nice":false,"zero":false},"axis":null}}},
{"data":{"name":"arrows"},"transform":[{"filter":"datum.t=='B1'"}],"mark":{"type":"point","shape":"M1,-1L0,0L1,1","filled":false,"color":"#f9b25c","strokeWidth":1,"size":30,"opacity":1},"encoding":{"x":{"field":"a","type":"quantitative","scale":{"domain":[57360,80970],"range":[39,642],"nice":false,"zero":false}},"y":{"datum":-44,"type":"quantitative","scale":{"domain":[-49,63],"nice":false,"zero":false},"axis":null}}}
]},
{"width":60,"height":103,"data":{"values":[{"lab":"2"}]},"layer":[
{"mark":{"type":"rect","color":"#f3dbdb"},"encoding":{"x":{"datum":19,"type":"quantitative","scale":{"domain":[0,60],"nice":false,"zero":false},"axis":null},"x2":{"datum":48},"y":{"datum":20,"type":"quantitative","scale":{"domain":[0,103],"nice":false,"zero":false,"reverse":true},"axis":null},"y2":{"datum":53}}},
{"mark":{"type":"text","font":"Liberation Serif","fontWeight":"bold","fontSize":21,"color":"#000000","align":"center","baseline":"middle"},"encoding":{"x":{"datum":33.5,"type":"quantitative","scale":{"domain":[0,60],"nice":false,"zero":false},"axis":null},"y":{"datum":37,"type":"quantitative","scale":{"domain":[0,103],"nice":false,"zero":false,"reverse":true},"axis":null},"text":{"field":"lab","type":"nominal"}}}
]},
{"width":685,"height":103,"data":{"name":"genes"},"layer":[
{"transform":[{"filter":"datum.t=='B2'&&datum.ty=='Att'"}],"mark":{"type":"rule","color":"#7aaed2","strokeWidth":1.2},"encoding":{"x":{"field":"s","type":"quantitative","scale":{"domain":[292940,317560],"range":[54,657],"nice":false,"zero":false}},"y":{"datum":11,"type":"quantitative","scale":{"domain":[-50,53],"nice":false,"zero":false},"axis":null},"y2":{"datum":23}}},
{"transform":[{"filter":"datum.t=='B2'&&datum.d=='+'&&datum.ty!='Att'"}],"mark":{"type":"rect","stroke":"#cfcfcf","strokeWidth":0.8},"encoding":{"x":{"field":"s","type":"quantitative","scale":{"domain":[292940,317560],"range":[54,657],"nice":false,"zero":false},"axis":{"values":[294000,296000,298000,300000,302000,304000,306000,308000,310000,312000,314000,316000],"format":".4s","offset":-50,"title":null,"domainColor":"#d5d5d5","domainWidth":1.2,"tickColor":"#c5c5c5","tickSize":2.5,"labelFontSize":4.5,"labelColor":"#999999","labelPadding":1.5,"labelOverlap":false,"labelFlush":false}},"x2":{"field":"e"},"y":{"datum":11,"type":"quantitative","scale":{"domain":[-50,53],"nice":false,"zero":false},"axis":null},"y2":{"datum":23},"color":{"field":"ty","type":"nominal","scale":{"domain":["Hyp","PLP","Int","Att","Sha","Coa","Ter","Por","Tra","Fib","Pla"],"range":["#69df6d","#2fdfca","#49d5ee","#7aaed2","#66b3f6","#6272e6","#f6609c","#d150e6","#e8ef66","#fff07c","#ffcc46"]},"legend":null}}},
{"transform":[{"filter":"datum.t=='B2'&&datum.d=='-'"}],"mark":{"type":"rect","stroke":"#cfcfcf","strokeWidth":0.8},"encoding":{"x":{"field":"s","type":"quantitative","scale":{"domain":[292940,317560],"range":[54,657],"nice":false,"zero":false}},"x2":{"field":"e"},"y":{"datum":-25,"type":"quantitative","scale":{"domain":[-50,53],"nice":false,"zero":false},"axis":null},"y2":{"datum":-11},"color":{"field":"ty","type":"nominal","scale":{"domain":["Hyp","PLP","Int","Att","Sha","Coa","Ter","Por","Tra","Fib","Pla"],"range":["#69df6d","#2fdfca","#49d5ee","#7aaed2","#66b3f6","#6272e6","#f6609c","#d150e6","#e8ef66","#fff07c","#ffcc46"]},"legend":null}}},
{"transform":[{"filter":"datum.t=='B2'&&datum.d=='+'&&datum.l==1"}],"mark":{"type":"rule","color":"#b5b5b5","strokeWidth":0.7},"encoding":{"x":{"field":"m","type":"quantitative","scale":{"domain":[292940,317560],"range":[54,657],"nice":false,"zero":false}},"y":{"datum":24,"type":"quantitative","scale":{"domain":[-50,53],"nice":false,"zero":false},"axis":null},"y2":{"datum":26}}},
{"transform":[{"filter":"datum.t=='B2'&&datum.d=='+'&&datum.l==2"}],"mark":{"type":"rule","color":"#b5b5b5","strokeWidth":0.7},"encoding":{"x":{"field":"m","type":"quantitative","scale":{"domain":[292940,317560],"range":[54,657],"nice":false,"zero":false}},"y":{"datum":24,"type":"quantitative","scale":{"domain":[-50,53],"nice":false,"zero":false},"axis":null},"y2":{"datum":34}}},
{"transform":[{"filter":"datum.t=='B2'&&datum.d=='-'&&datum.l==1"}],"mark":{"type":"rule","color":"#b5b5b5","strokeWidth":0.7},"encoding":{"x":{"field":"m","type":"quantitative","scale":{"domain":[292940,317560],"range":[54,657],"nice":false,"zero":false}},"y":{"datum":-26,"type":"quantitative","scale":{"domain":[-50,53],"nice":false,"zero":false},"axis":null},"y2":{"datum":-28}}},
{"transform":[{"filter":"datum.t=='B2'&&datum.d=='-'&&datum.l==2"}],"mark":{"type":"rule","color":"#b5b5b5","strokeWidth":0.7},"encoding":{"x":{"field":"m","type":"quantitative","scale":{"domain":[292940,317560],"range":[54,657],"nice":false,"zero":false}},"y":{"datum":-26,"type":"quantitative","scale":{"domain":[-50,53],"nice":false,"zero":false},"axis":null},"y2":{"datum":-34}}},
{"transform":[{"filter":"datum.t=='B2'&&datum.d=='+'&&datum.l==1"}],"mark":{"type":"text","font":"DejaVu Sans Condensed, Liberation Sans, sans-serif","fontSize":6.5,"color":"#9a9a9a","baseline":"middle"},"encoding":{"x":{"field":"m","type":"quantitative","scale":{"domain":[292940,317560],"range":[54,657],"nice":false,"zero":false}},"y":{"datum":29,"type":"quantitative","scale":{"domain":[-50,53],"nice":false,"zero":false},"axis":null},"text":{"field":"ty","type":"nominal"}}},
{"transform":[{"filter":"datum.t=='B2'&&datum.d=='+'&&datum.l==2"}],"mark":{"type":"text","font":"DejaVu Sans Condensed, Liberation Sans, sans-serif","fontSize":6.5,"color":"#9a9a9a","baseline":"middle"},"encoding":{"x":{"field":"m","type":"quantitative","scale":{"domain":[292940,317560],"range":[54,657],"nice":false,"zero":false}},"y":{"datum":37,"type":"quantitative","scale":{"domain":[-50,53],"nice":false,"zero":false},"axis":null},"text":{"field":"ty","type":"nominal"}}},
{"transform":[{"filter":"datum.t=='B2'&&datum.d=='-'&&datum.l==1"}],"mark":{"type":"text","font":"DejaVu Sans Condensed, Liberation Sans, sans-serif","fontSize":6.5,"color":"#9a9a9a","baseline":"middle"},"encoding":{"x":{"field":"m","type":"quantitative","scale":{"domain":[292940,317560],"range":[54,657],"nice":false,"zero":false}},"y":{"datum":-31,"type":"quantitative","scale":{"domain":[-50,53],"nice":false,"zero":false},"axis":null},"text":{"field":"ty","type":"nominal"}}},
{"transform":[{"filter":"datum.t=='B2'&&datum.d=='-'&&datum.l==2"}],"mark":{"type":"text","font":"DejaVu Sans Condensed, Liberation Sans, sans-serif","fontSize":6.5,"color":"#9a9a9a","baseline":"middle"},"encoding":{"x":{"field":"m","type":"quantitative","scale":{"domain":[292940,317560],"range":[54,657],"nice":false,"zero":false}},"y":{"datum":-37,"type":"quantitative","scale":{"domain":[-50,53],"nice":false,"zero":false},"axis":null},"text":{"field":"ty","type":"nominal"}}},
{"data":{"name":"arrows"},"transform":[{"filter":"datum.t=='B2'"}],"mark":{"type":"rule","color":"#f9b25c","strokeWidth":1},"encoding":{"x":{"field":"a","type":"quantitative","scale":{"domain":[292940,317560],"range":[54,657],"nice":false,"zero":false}},"x2":{"field":"b"},"y":{"datum":44,"type":"quantitative","scale":{"domain":[-50,53],"nice":false,"zero":false},"axis":null}}},
{"data":{"name":"arrows"},"transform":[{"filter":"datum.t=='B2'"}],"mark":{"type":"rule","color":"#f9b25c","strokeWidth":1},"encoding":{"x":{"field":"a","type":"quantitative","scale":{"domain":[292940,317560],"range":[54,657],"nice":false,"zero":false}},"x2":{"field":"b"},"y":{"datum":-44,"type":"quantitative","scale":{"domain":[-50,53],"nice":false,"zero":false},"axis":null}}},
{"data":{"name":"arrows"},"transform":[{"filter":"datum.t=='B2'"}],"mark":{"type":"point","shape":"M-1,-1L0,0L-1,1","filled":false,"color":"#f9b25c","strokeWidth":1,"size":30,"opacity":1},"encoding":{"x":{"field":"b","type":"quantitative","scale":{"domain":[292940,317560],"range":[54,657],"nice":false,"zero":false}},"y":{"datum":44,"type":"quantitative","scale":{"domain":[-50,53],"nice":false,"zero":false},"axis":null}}},
{"data":{"name":"arrows"},"transform":[{"filter":"datum.t=='B2'"}],"mark":{"type":"point","shape":"M1,-1L0,0L1,1","filled":false,"color":"#f9b25c","strokeWidth":1,"size":30,"opacity":1},"encoding":{"x":{"field":"a","type":"quantitative","scale":{"domain":[292940,317560],"range":[54,657],"nice":false,"zero":false}},"y":{"datum":-44,"type":"quantitative","scale":{"domain":[-50,53],"nice":false,"zero":false},"axis":null}}}
]},
{"width":60,"height":95,"data":{"values":[{"lab":"3"}]},"layer":[
{"mark":{"type":"rect","color":"#f3dbdb"},"encoding":{"x":{"datum":19,"type":"quantitative","scale":{"domain":[0,60],"nice":false,"zero":false},"axis":null},"x2":{"datum":48},"y":{"datum":28,"type":"quantitative","scale":{"domain":[0,95],"nice":false,"zero":false,"reverse":true},"axis":null},"y2":{"datum":63}}},
{"mark":{"type":"text","font":"Liberation Serif","fontWeight":"bold","fontSize":21,"color":"#000000","align":"center","baseline":"middle"},"encoding":{"x":{"datum":33.5,"type":"quantitative","scale":{"domain":[0,60],"nice":false,"zero":false},"axis":null},"y":{"datum":46,"type":"quantitative","scale":{"domain":[0,95],"nice":false,"zero":false,"reverse":true},"axis":null},"text":{"field":"lab","type":"nominal"}}}
]},
{"width":685,"height":95,"data":{"name":"genes"},"layer":[
{"transform":[{"filter":"datum.t=='B3'&&datum.ty=='Att'"}],"mark":{"type":"rule","color":"#7aaed2","strokeWidth":1.2},"encoding":{"x":{"field":"s","type":"quantitative","scale":{"domain":[89500,150000],"range":[39,649],"nice":false,"zero":false}},"y":{"datum":9,"type":"quantitative","scale":{"domain":[-43,52],"nice":false,"zero":false},"axis":null},"y2":{"datum":21}}},
{"transform":[{"filter":"datum.t=='B3'&&datum.d=='+'&&datum.ty!='Att'"}],"mark":{"type":"rect","stroke":"#cfcfcf","strokeWidth":0.8},"encoding":{"x":{"field":"s","type":"quantitative","scale":{"domain":[89500,150000],"range":[39,649],"nice":false,"zero":false},"axis":{"values":[90000,95000,100000,105000,110000,115000,120000,125000,130000,135000,140000,145000,150000],"format":".4s","offset":-43,"title":null,"domainColor":"#d5d5d5","domainWidth":1.2,"tickColor":"#c5c5c5","tickSize":2.5,"labelFontSize":4.5,"labelColor":"#999999","labelPadding":1.5,"labelOverlap":false,"labelFlush":false}},"x2":{"field":"e"},"y":{"datum":9,"type":"quantitative","scale":{"domain":[-43,52],"nice":false,"zero":false},"axis":null},"y2":{"datum":21},"color":{"field":"ty","type":"nominal","scale":{"domain":["Hyp","PLP","Int","Att","Sha","Coa","Ter","Por","Tra","Fib","Pla"],"range":["#69df6d","#2fdfca","#49d5ee","#7aaed2","#66b3f6","#6272e6","#f6609c","#d150e6","#e8ef66","#fff07c","#ffcc46"]},"legend":null}}},
{"transform":[{"filter":"datum.t=='B3'&&datum.d=='-'"}],"mark":{"type":"rect","stroke":"#cfcfcf","strokeWidth":0.8},"encoding":{"x":{"field":"s","type":"quantitative","scale":{"domain":[89500,150000],"range":[39,649],"nice":false,"zero":false}},"x2":{"field":"e"},"y":{"datum":-21,"type":"quantitative","scale":{"domain":[-43,52],"nice":false,"zero":false},"axis":null},"y2":{"datum":-10},"color":{"field":"ty","type":"nominal","scale":{"domain":["Hyp","PLP","Int","Att","Sha","Coa","Ter","Por","Tra","Fib","Pla"],"range":["#69df6d","#2fdfca","#49d5ee","#7aaed2","#66b3f6","#6272e6","#f6609c","#d150e6","#e8ef66","#fff07c","#ffcc46"]},"legend":null}}},
{"transform":[{"filter":"datum.t=='B3'&&datum.d=='+'&&datum.l==1"}],"mark":{"type":"rule","color":"#b5b5b5","strokeWidth":0.7},"encoding":{"x":{"field":"m","type":"quantitative","scale":{"domain":[89500,150000],"range":[39,649],"nice":false,"zero":false}},"y":{"datum":22,"type":"quantitative","scale":{"domain":[-43,52],"nice":false,"zero":false},"axis":null},"y2":{"datum":23.5}}},
{"transform":[{"filter":"datum.t=='B3'&&datum.d=='+'&&datum.l==2"}],"mark":{"type":"rule","color":"#b5b5b5","strokeWidth":0.7},"encoding":{"x":{"field":"m","type":"quantitative","scale":{"domain":[89500,150000],"range":[39,649],"nice":false,"zero":false}},"y":{"datum":22,"type":"quantitative","scale":{"domain":[-43,52],"nice":false,"zero":false},"axis":null},"y2":{"datum":29.5}}},
{"transform":[{"filter":"datum.t=='B3'&&datum.d=='-'&&datum.l==1"}],"mark":{"type":"rule","color":"#b5b5b5","strokeWidth":0.7},"encoding":{"x":{"field":"m","type":"quantitative","scale":{"domain":[89500,150000],"range":[39,649],"nice":false,"zero":false}},"y":{"datum":-22,"type":"quantitative","scale":{"domain":[-43,52],"nice":false,"zero":false},"axis":null},"y2":{"datum":-23.5}}},
{"transform":[{"filter":"datum.t=='B3'&&datum.d=='-'&&datum.l==2"}],"mark":{"type":"rule","color":"#b5b5b5","strokeWidth":0.7},"encoding":{"x":{"field":"m","type":"quantitative","scale":{"domain":[89500,150000],"range":[39,649],"nice":false,"zero":false}},"y":{"datum":-22,"type":"quantitative","scale":{"domain":[-43,52],"nice":false,"zero":false},"axis":null},"y2":{"datum":-29.5}}},
{"transform":[{"filter":"datum.t=='B3'&&datum.d=='+'&&datum.l==1"}],"mark":{"type":"text","font":"DejaVu Sans Condensed, Liberation Sans, sans-serif","fontSize":6,"color":"#9a9a9a","baseline":"middle"},"encoding":{"x":{"field":"m","type":"quantitative","scale":{"domain":[89500,150000],"range":[39,649],"nice":false,"zero":false}},"y":{"datum":26,"type":"quantitative","scale":{"domain":[-43,52],"nice":false,"zero":false},"axis":null},"text":{"field":"ty","type":"nominal"}}},
{"transform":[{"filter":"datum.t=='B3'&&datum.d=='+'&&datum.l==2"}],"mark":{"type":"text","font":"DejaVu Sans Condensed, Liberation Sans, sans-serif","fontSize":6,"color":"#9a9a9a","baseline":"middle"},"encoding":{"x":{"field":"m","type":"quantitative","scale":{"domain":[89500,150000],"range":[39,649],"nice":false,"zero":false}},"y":{"datum":32,"type":"quantitative","scale":{"domain":[-43,52],"nice":false,"zero":false},"axis":null},"text":{"field":"ty","type":"nominal"}}},
{"transform":[{"filter":"datum.t=='B3'&&datum.d=='-'&&datum.l==1"}],"mark":{"type":"text","font":"DejaVu Sans Condensed, Liberation Sans, sans-serif","fontSize":5.5,"color":"#9a9a9a","baseline":"middle"},"encoding":{"x":{"field":"m","type":"quantitative","scale":{"domain":[89500,150000],"range":[39,649],"nice":false,"zero":false}},"y":{"datum":-26,"type":"quantitative","scale":{"domain":[-43,52],"nice":false,"zero":false},"axis":null},"text":{"field":"ty","type":"nominal"}}},
{"transform":[{"filter":"datum.t=='B3'&&datum.d=='-'&&datum.l==2"}],"mark":{"type":"text","font":"DejaVu Sans Condensed, Liberation Sans, sans-serif","fontSize":5.5,"color":"#9a9a9a","baseline":"middle"},"encoding":{"x":{"field":"m","type":"quantitative","scale":{"domain":[89500,150000],"range":[39,649],"nice":false,"zero":false}},"y":{"datum":-32,"type":"quantitative","scale":{"domain":[-43,52],"nice":false,"zero":false},"axis":null},"text":{"field":"ty","type":"nominal"}}},
{"data":{"name":"arrows"},"transform":[{"filter":"datum.t=='B3'"}],"mark":{"type":"rule","color":"#f9b25c","strokeWidth":1},"encoding":{"x":{"field":"a","type":"quantitative","scale":{"domain":[89500,150000],"range":[39,649],"nice":false,"zero":false}},"x2":{"field":"b"},"y":{"datum":39,"type":"quantitative","scale":{"domain":[-43,52],"nice":false,"zero":false},"axis":null}}},
{"data":{"name":"arrows"},"transform":[{"filter":"datum.t=='B3'"}],"mark":{"type":"rule","color":"#f9b25c","strokeWidth":1},"encoding":{"x":{"field":"a","type":"quantitative","scale":{"domain":[89500,150000],"range":[39,649],"nice":false,"zero":false}},"x2":{"field":"b"},"y":{"datum":-38,"type":"quantitative","scale":{"domain":[-43,52],"nice":false,"zero":false},"axis":null}}},
{"data":{"name":"arrows"},"transform":[{"filter":"datum.t=='B3'"}],"mark":{"type":"point","shape":"M-1,-1L0,0L-1,1","filled":false,"color":"#f9b25c","strokeWidth":1,"size":30,"opacity":1},"encoding":{"x":{"field":"b","type":"quantitative","scale":{"domain":[89500,150000],"range":[39,649],"nice":false,"zero":false}},"y":{"datum":39,"type":"quantitative","scale":{"domain":[-43,52],"nice":false,"zero":false},"axis":null}}},
{"data":{"name":"arrows"},"transform":[{"filter":"datum.t=='B3'"}],"mark":{"type":"point","shape":"M1,-1L0,0L1,1","filled":false,"color":"#f9b25c","strokeWidth":1,"size":30,"opacity":1},"encoding":{"x":{"field":"a","type":"quantitative","scale":{"domain":[89500,150000],"range":[39,649],"nice":false,"zero":false}},"y":{"datum":-38,"type":"quantitative","scale":{"domain":[-43,52],"nice":false,"zero":false},"axis":null}}}
]},
{"width":60,"height":123,"data":{"values":[{"lab":"4"}]},"layer":[
{"mark":{"type":"rect","color":"#f3dbdb"},"encoding":{"x":{"datum":19,"type":"quantitative","scale":{"domain":[0,60],"nice":false,"zero":false},"axis":null},"x2":{"datum":48},"y":{"datum":28,"type":"quantitative","scale":{"domain":[0,123],"nice":false,"zero":false,"reverse":true},"axis":null},"y2":{"datum":63}}},
{"mark":{"type":"text","font":"Liberation Serif","fontWeight":"bold","fontSize":21,"color":"#000000","align":"center","baseline":"middle"},"encoding":{"x":{"datum":33.5,"type":"quantitative","scale":{"domain":[0,60],"nice":false,"zero":false},"axis":null},"y":{"datum":46,"type":"quantitative","scale":{"domain":[0,123],"nice":false,"zero":false,"reverse":true},"axis":null},"text":{"field":"lab","type":"nominal"}}}
]},
{"width":685,"height":123,"data":{"name":"genes"},"layer":[
{"transform":[{"filter":"datum.t=='B4'&&datum.d=='+'"}],"mark":{"type":"rect","stroke":"#cfcfcf","strokeWidth":0.8},"encoding":{"x":{"field":"s","type":"quantitative","scale":{"domain":[90,16510],"range":[66,670],"nice":false,"zero":false},"axis":{"values":[2000,4000,6000,8000,10000,12000,14000,16000],"format":".4s","offset":-52,"title":null,"domainColor":"#d5d5d5","domainWidth":1.2,"tickColor":"#c5c5c5","tickSize":2.5,"labelFontSize":4.5,"labelColor":"#999999","labelPadding":1.5,"labelOverlap":false,"labelFlush":false}},"x2":{"field":"e"},"y":{"datum":13,"type":"quantitative","scale":{"domain":[-52,71],"nice":false,"zero":false},"axis":null},"y2":{"datum":29},"color":{"field":"ty","type":"nominal","scale":{"domain":["Hyp","PLP","Int","Att","Sha","Coa","Ter","Por","Tra","Fib","Pla"],"range":["#69df6d","#2fdfca","#49d5ee","#7aaed2","#66b3f6","#6272e6","#f6609c","#d150e6","#e8ef66","#fff07c","#ffcc46"]},"legend":null}}},
{"transform":[{"filter":"datum.t=='B4'&&datum.d=='+'&&datum.l==1"}],"mark":{"type":"rule","color":"#b5b5b5","strokeWidth":0.7},"encoding":{"x":{"field":"m","type":"quantitative","scale":{"domain":[90,16510],"range":[66,670],"nice":false,"zero":false}},"y":{"datum":30,"type":"quantitative","scale":{"domain":[-52,71],"nice":false,"zero":false},"axis":null},"y2":{"datum":32}}},
{"transform":[{"filter":"datum.t=='B4'&&datum.d=='+'&&datum.l==2"}],"mark":{"type":"rule","color":"#b5b5b5","strokeWidth":0.7},"encoding":{"x":{"field":"m","type":"quantitative","scale":{"domain":[90,16510],"range":[66,670],"nice":false,"zero":false}},"y":{"datum":30,"type":"quantitative","scale":{"domain":[-52,71],"nice":false,"zero":false},"axis":null},"y2":{"datum":39}}},
{"transform":[{"filter":"datum.t=='B4'&&datum.d=='+'&&datum.l==1"}],"mark":{"type":"text","font":"DejaVu Sans Condensed, Liberation Sans, sans-serif","fontSize":6.5,"color":"#9a9a9a","baseline":"middle"},"encoding":{"x":{"field":"m","type":"quantitative","scale":{"domain":[90,16510],"range":[66,670],"nice":false,"zero":false}},"y":{"datum":35,"type":"quantitative","scale":{"domain":[-52,71],"nice":false,"zero":false},"axis":null},"text":{"field":"ty","type":"nominal"}}},
{"transform":[{"filter":"datum.t=='B4'&&datum.d=='+'&&datum.l==2"}],"mark":{"type":"text","font":"DejaVu Sans Condensed, Liberation Sans, sans-serif","fontSize":6.5,"color":"#9a9a9a","baseline":"middle"},"encoding":{"x":{"field":"m","type":"quantitative","scale":{"domain":[90,16510],"range":[66,670],"nice":false,"zero":false}},"y":{"datum":42,"type":"quantitative","scale":{"domain":[-52,71],"nice":false,"zero":false},"axis":null},"text":{"field":"ty","type":"nominal"}}},
{"data":{"name":"arrows"},"transform":[{"filter":"datum.t=='B4'"}],"mark":{"type":"rule","color":"#f9b25c","strokeWidth":1},"encoding":{"x":{"field":"a","type":"quantitative","scale":{"domain":[90,16510],"range":[66,670],"nice":false,"zero":false}},"x2":{"field":"b"},"y":{"datum":51,"type":"quantitative","scale":{"domain":[-52,71],"nice":false,"zero":false},"axis":null}}},
{"data":{"name":"arrows"},"transform":[{"filter":"datum.t=='B4'"}],"mark":{"type":"rule","color":"#f9b25c","strokeWidth":1},"encoding":{"x":{"field":"a","type":"quantitative","scale":{"domain":[90,16510],"range":[66,670],"nice":false,"zero":false}},"x2":{"field":"b"},"y":{"datum":-48,"type":"quantitative","scale":{"domain":[-52,71],"nice":false,"zero":false},"axis":null}}},
{"data":{"name":"arrows"},"transform":[{"filter":"datum.t=='B4'"}],"mark":{"type":"point","shape":"M-1,-1L0,0L-1,1","filled":false,"color":"#f9b25c","strokeWidth":1,"size":30,"opacity":1},"encoding":{"x":{"field":"b","type":"quantitative","scale":{"domain":[90,16510],"range":[66,670],"nice":false,"zero":false}},"y":{"datum":51,"type":"quantitative","scale":{"domain":[-52,71],"nice":false,"zero":false},"axis":null}}},
{"data":{"name":"arrows"},"transform":[{"filter":"datum.t=='B4'"}],"mark":{"type":"point","shape":"M1,-1L0,0L1,1","filled":false,"color":"#f9b25c","strokeWidth":1,"size":30,"opacity":1},"encoding":{"x":{"field":"a","type":"quantitative","scale":{"domain":[90,16510],"range":[66,670],"nice":false,"zero":false}},"y":{"datum":-48,"type":"quantitative","scale":{"domain":[-52,71],"nice":false,"zero":false},"axis":null}}}
]}
]
}
